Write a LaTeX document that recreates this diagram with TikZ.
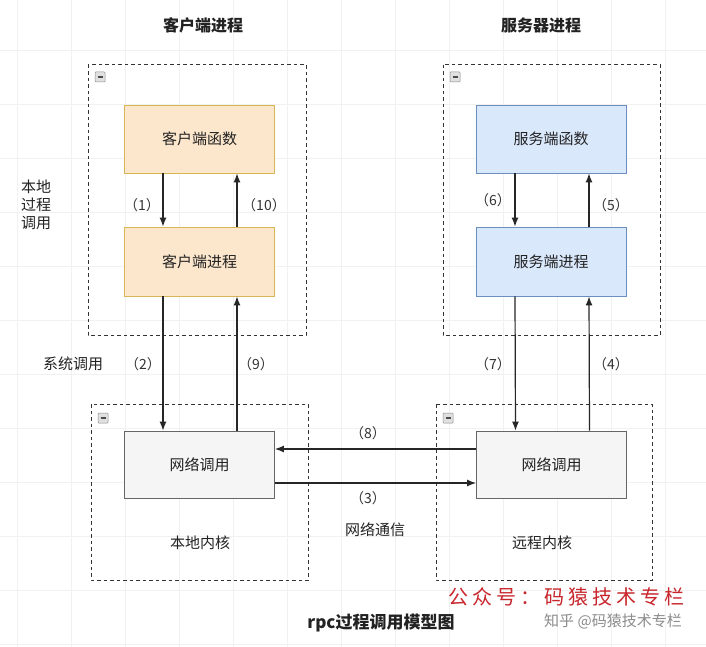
\documentclass[tikz,border=0pt]{standalone}
\usepackage{fontspec}
\setmainfont{Noto Sans CJK SC}
\usetikzlibrary{arrows.meta}
\definecolor{orgfill}{HTML}{FCE6CC}
\definecolor{orgdraw}{HTML}{D6B656}
\definecolor{bluefill}{HTML}{DAE8FC}
\definecolor{bluedraw}{HTML}{6C8EBF}
\definecolor{greyfill}{HTML}{F5F5F5}
\definecolor{greydraw}{HTML}{666666}
\definecolor{txt}{HTML}{222222}
\definecolor{lbltxt}{HTML}{333333}
\definecolor{gridc}{HTML}{F1F1F1}
\definecolor{wmred}{HTML}{C8262C}
\newcommand\fsz[1]{\fontsize{#1}{#1}\selectfont}
\tikzset{
  box/.style={draw, line width=0.9pt, minimum width=150, inner sep=0pt, text=txt, font=\fsz{15}},
  orgbox/.style={box, fill=orgfill, draw=orgdraw},
  bluebox/.style={box, fill=bluefill, draw=bluedraw},
  greybox/.style={box, fill=greyfill, draw=greydraw},
  container/.style={draw=black!80, line width=1pt, dash pattern=on 3.5pt off 3pt},
  arr/.style={draw=black!85, line width=1.2pt, -{Latex[length=9pt,width=7pt]}},
  lbl/.style={text=lbltxt, font=\fsz{14}, inner sep=0pt},
  plain/.style={text=txt, font=\fsz{15}, inner sep=0pt},
  title/.style={text=txt, font=\fsz{16}\bfseries, inner sep=0pt},
  colicon/.pic={
    \draw[draw=black!45, fill=black!12, line width=0.5pt, rounded corners=0.8pt] (0,0) rectangle (10,10);
    \draw[black!70, line width=1.3pt] (2.5,5) -- (7.5,5);
  }
}
\begin{document}
\begin{tikzpicture}[x=1pt, y=-1pt]
\useasboundingbox (0,0) rectangle (706,647);
\fill[white] (0,0) rectangle (706,647);
% faint grid
\foreach \gx in {17,71,...,701} \draw[gridc, line width=0.8pt] (\gx,0) -- (\gx,647);
\foreach \gy in {50,104,...,646} \draw[gridc, line width=0.8pt] (0,\gy) -- (706,\gy);

% titles
\node[title] (t1) at (203,25) {客户端进程};
\node[title] (t2) at (541,25) {服务器进程};

% containers
\draw[container] (88,65) rectangle (306,335);
\draw[container] (443,65) rectangle (660,335);
\draw[container] (91,404) rectangle (308,580);
\draw[container] (436,404) rectangle (652,580);
\pic at (95,72) {colicon};
\pic at (450,72) {colicon};
\pic at (98,413) {colicon};
\pic at (443,413) {colicon};

% boxes
\node[orgbox, minimum height=68] (cf) at (199.5,139) {客户端函数};
\node[orgbox, minimum height=69] (cp) at (199.5,261.5) {客户端进程};
\node[bluebox, minimum height=68] (sf) at (551,139) {服务端函数};
\node[bluebox, minimum height=69] (sp) at (551,261.5) {服务端进程};
\node[greybox, minimum height=67] (ln) at (199.5,464.5) {网络调用};
\node[greybox, minimum height=67] (rn) at (551.5,464.5) {网络调用};

% kernel labels
\node[plain] (lk) at (200,543) {本地内核};
\node[plain] (rk) at (542,543) {远程内核};
\node[plain] (net) at (375,530) {网络通信};
\node[text=txt, inner sep=0pt, align=left, font=\fontsize{15}{18}\selectfont] (lpc) at (36,205) {本地\\过程\\调用};
\node[plain] (sys) at (73,364) {系统调用};

% vertical arrows left
\draw[arr] ([xshift=-36.5]cf.south) -- ([xshift=-36.5]cp.north);
\draw[arr] ([xshift=37.5]cp.north) -- ([xshift=37.5]cf.south);
\draw[arr] ([xshift=-36.5]cp.south) -- ([xshift=-36.5]ln.north);
\draw[arr] ([xshift=37.5]ln.north) -- ([xshift=37.5]cp.south);
% vertical arrows right
\draw[arr] ([xshift=-36]sf.south) -- ([xshift=-36]sp.north);
\draw[arr] ([xshift=38]sp.north) -- ([xshift=38]sf.south);
\draw[arr] ([xshift=-36]sp.south) -- ([xshift=-36]rn.north);
\draw[arr] ([xshift=38]rn.north) -- ([xshift=38]sp.south);
% horizontal arrows
\draw[arr] ([yshift=15.5]rn.west) -- ([yshift=15.5]ln.east);
\draw[arr] ([yshift=-18.5]ln.east) -- ([yshift=-18.5]rn.west);

% step labels
\node[lbl] (l1) at (142,205) {（1）};
\node[lbl] (l10) at (264,205) {（10）};
\node[lbl] (l2) at (143,364) {（2）};
\node[lbl] (l9) at (256,364) {（9）};
\node[lbl] (l6) at (493,200) {（6）};
\node[lbl] (l5) at (611,205) {（5）};
\node[lbl] (l7) at (493,364) {（7）};
\node[lbl] (l4) at (611,364) {（4）};
\node[lbl] (l8) at (368,433) {（8）};
\node[lbl] (l3) at (368,498) {（3）};

% captions
\node[text=txt, font=\fsz{17}\bfseries, inner sep=0pt] (cap) at (381,623) {rpc过程调用模型图};
\node[text=wmred, font=\fsz{20}, inner sep=0pt] (wm1) at (566,597) {公\kern4pt 众\kern4pt 号\kern4pt ：\kern4pt 码\kern4pt 猿\kern4pt 技\kern4pt 术\kern4pt 专\kern4pt 栏};
\node[text=black!45, font=\fsz{15}, inner sep=0pt] (wm2) at (613,621) {知乎 @码猿技术专栏};
\end{tikzpicture}
\end{document}
